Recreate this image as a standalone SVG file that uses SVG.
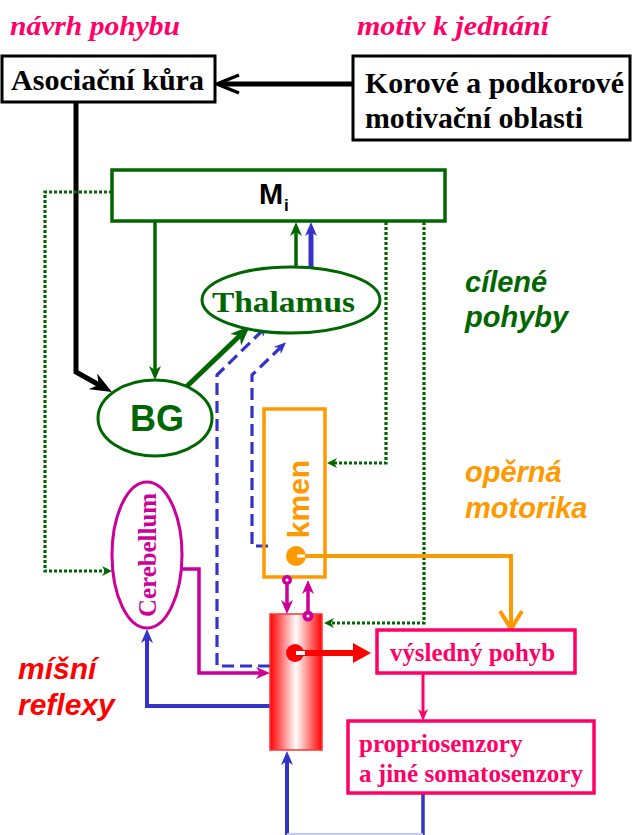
<svg xmlns="http://www.w3.org/2000/svg" width="633" height="835" viewBox="0 0 633 835">
<style>
.serif{font-family:"Liberation Serif","Times New Roman",serif;font-weight:bold}
.sans{font-family:"Liberation Sans",Arial,sans-serif;font-weight:bold}
.it{font-style:italic}
.box{fill:#fff}
.dot{fill:none;stroke:#006600;stroke-width:3.2;stroke-dasharray:3 2}
.dash{fill:none;stroke:#3333cc;stroke-width:3.2;stroke-dasharray:12 6}
</style>
<defs>
<linearGradient id="spine" x1="0" y1="0" x2="1" y2="0">
<stop offset="0" stop-color="#ff0000"/>
<stop offset="0.5" stop-color="#ffffff"/>
<stop offset="1" stop-color="#ff0000"/>
</linearGradient>
<marker id="mBlk" markerUnits="userSpaceOnUse" viewBox="0 0 22 18" markerWidth="22" markerHeight="18" refX="10" refY="9" orient="auto"><path d="M0,0 L22,9 L0,18 L7,9 z" fill="#000"/></marker>
<marker id="mGrn" markerUnits="userSpaceOnUse" viewBox="0 0 14 12" markerWidth="14" markerHeight="12" refX="6" refY="6" orient="auto"><path d="M0,0 L14,6 L0,12 L4,6 z" fill="#006600"/></marker>
<marker id="mGrnBig" markerUnits="userSpaceOnUse" viewBox="0 0 20 16" markerWidth="20" markerHeight="16" refX="8" refY="8" orient="auto"><path d="M0,0 L20,8 L0,16 L6,8 z" fill="#006600"/></marker>
<marker id="mGrnS" markerUnits="userSpaceOnUse" viewBox="0 0 10 10" markerWidth="10" markerHeight="10" refX="4" refY="5" orient="auto"><path d="M0,0 L10,5 L0,10 L3,5 z" fill="#006600"/></marker>
<marker id="mBlu" markerUnits="userSpaceOnUse" viewBox="0 0 14 12" markerWidth="14" markerHeight="12" refX="6" refY="6" orient="auto"><path d="M0,0 L14,6 L0,12 L4,6 z" fill="#3333cc"/></marker>
<marker id="mBluS" markerUnits="userSpaceOnUse" viewBox="0 0 12 10" markerWidth="12" markerHeight="10" refX="5" refY="5" orient="auto"><path d="M0,0 L12,5 L0,10 L3.5,5 z" fill="#3333cc"/></marker>
<marker id="mMag" markerUnits="userSpaceOnUse" viewBox="0 0 14 12" markerWidth="14" markerHeight="12" refX="6" refY="6" orient="auto"><path d="M0,0 L14,6 L0,12 L4,6 z" fill="#cc0099"/></marker>
<marker id="mPnk" markerUnits="userSpaceOnUse" viewBox="0 0 12 10" markerWidth="12" markerHeight="10" refX="5" refY="5" orient="auto"><path d="M0,0 L12,5 L0,10 L3.5,5 z" fill="#ff0066"/></marker>
<marker id="mRed" markerUnits="userSpaceOnUse" viewBox="0 0 18 20" markerWidth="18" markerHeight="20" refX="2" refY="10" orient="auto"><path d="M0,0 L18,10 L0,20 z" fill="#ff0000"/></marker>
</defs>

<rect width="633" height="835" fill="#fff"/>

<g id="labels">
<text class="serif it" x="10" y="35" font-size="28" fill="#ff0066" textLength="170" lengthAdjust="spacingAndGlyphs">návrh pohybu</text>
<text class="serif it" x="357" y="35" font-size="28" fill="#ff0066" textLength="192" lengthAdjust="spacingAndGlyphs">motiv k jednání</text>
<text class="sans it" x="465" y="292" font-size="29" fill="#006600">cílené</text>
<text class="sans it" x="465" y="327" font-size="29" fill="#006600">pohyby</text>
<text class="sans it" x="465" y="482" font-size="29" fill="#ff9900">opěrná</text>
<text class="sans it" x="465" y="518" font-size="29" fill="#ff9900">motorika</text>
<text class="sans it" x="18" y="679" font-size="30" fill="#ff0000">míšní</text>
<text class="sans it" x="18" y="715" font-size="30" fill="#ff0000">reflexy</text>
</g>

<g id="connectors">
<line x1="352" y1="84" x2="220" y2="84" stroke="#000" stroke-width="5"/>
<path d="M239,75 L217,84 L239,93" fill="none" stroke="#000" stroke-width="3.5"/>
<path d="M76,102 V372 L101.5,386.2" fill="none" stroke="#000" stroke-width="5" marker-end="url(#mBlk)"/>
<line x1="155" y1="221" x2="155" y2="372" stroke="#006600" stroke-width="3.5" marker-end="url(#mGrn)"/>
<line x1="183" y1="390" x2="241.3" y2="334.3" stroke="#006600" stroke-width="5" marker-end="url(#mGrnBig)"/>
<line x1="296" y1="267" x2="296" y2="230" stroke="#006600" stroke-width="3.5" marker-end="url(#mGrn)"/>
<line x1="311" y1="267" x2="311" y2="230" stroke="#3333cc" stroke-width="5" marker-end="url(#mBlu)"/>
<path class="dash" d="M270,666 H217 V375 L263,330" marker-end="url(#mBluS)"/>
<path class="dash" d="M268,546 H252 V375 L281,347" marker-end="url(#mBluS)"/>
<path class="dot" d="M112,192 H45 V571 H106" marker-end="url(#mGrnS)"/>
<path class="dot" d="M386,222 V463 H333" marker-end="url(#mGrnS)"/>
<path class="dot" d="M424,222 V623 H330" marker-end="url(#mGrnS)"/>
<path d="M296,556 H511 V628" fill="none" stroke="#ff9900" stroke-width="4"/>
<path d="M500,611 L511,629 L522,611" fill="none" stroke="#ff9900" stroke-width="4"/>
<path d="M182,569 H199 V673 H262" fill="none" stroke="#cc0099" stroke-width="3.5" marker-end="url(#mMag)"/>
<path d="M270,706 H147 V637" fill="none" stroke="#3333cc" stroke-width="4" marker-end="url(#mBlu)"/>
<line x1="423" y1="793" x2="423" y2="835" stroke="#3333cc" stroke-width="3.5"/>
<line x1="287" y1="835" x2="287" y2="759" stroke="#3333cc" stroke-width="4" marker-end="url(#mBlu)"/>
<line x1="287" y1="834" x2="423" y2="834" stroke="#c8c8f4" stroke-width="2"/>
<line x1="423" y1="673" x2="423" y2="714" stroke="#ff0066" stroke-width="3" marker-end="url(#mPnk)"/>
</g>

<g id="asociacni">
<rect class="box" x="2" y="56" width="213" height="46" stroke="#000" stroke-width="3"/>
<text class="serif" x="11" y="90" font-size="29" fill="#000" textLength="193" lengthAdjust="spacingAndGlyphs">Asociační kůra</text>
</g>

<g id="korove">
<rect class="box" x="353" y="56" width="277" height="84" stroke="#000" stroke-width="3"/>
<text class="serif" x="365" y="93" font-size="29" fill="#000" textLength="259" lengthAdjust="spacingAndGlyphs">Korové a podkorové</text>
<text class="serif" x="365" y="128" font-size="29" fill="#000" textLength="218" lengthAdjust="spacingAndGlyphs">motivační oblasti</text>
</g>

<g id="mi">
<rect class="box" x="112" y="170" width="333" height="51" stroke="#006600" stroke-width="3.5"/>
<text class="sans" x="259" y="204" font-size="29" fill="#000">M</text>
<text class="sans" x="284" y="211" font-size="17" fill="#000">i</text>
</g>

<g id="thalamus">
<ellipse cx="291" cy="300" rx="89" ry="33" fill="#fff" stroke="#006600" stroke-width="3"/>
<text class="serif" x="212" y="312" font-size="30" fill="#006600" textLength="143" lengthAdjust="spacingAndGlyphs">Thalamus</text>
</g>

<g id="bg">
<ellipse cx="155" cy="418" rx="57" ry="38" fill="#fff" stroke="#006600" stroke-width="3"/>
<text class="sans" x="157" y="431" font-size="36" fill="#006600" text-anchor="middle">BG</text>
</g>

<g id="kmen">
<rect x="264" y="409" width="61" height="168" fill="none" stroke="#ff9900" stroke-width="3.5"/>
<text class="sans" transform="translate(309,499) rotate(-90)" font-size="30" fill="#ff9900" text-anchor="middle">kmen</text>
<circle cx="296" cy="556" r="10" fill="#ff9900"/>
<rect x="297" y="554.5" width="8" height="3" fill="#fff"/>
</g>

<g id="cerebellum">
<ellipse cx="147" cy="555" rx="35" ry="73" fill="#fff" stroke="#cc0099" stroke-width="3"/>
<text class="serif" transform="translate(156,555) rotate(-90)" font-size="25" fill="#cc0099" text-anchor="middle" textLength="124" lengthAdjust="spacingAndGlyphs">Cerebellum</text>
</g>

<g id="micha">
<rect x="270" y="614" width="52" height="136" fill="url(#spine)" stroke="#ff3333" stroke-width="1.5"/>
<line x1="287" y1="580" x2="287" y2="606" stroke="#cc0099" stroke-width="3.5" marker-end="url(#mMag)"/>
<circle cx="287" cy="580" r="5" fill="#cc0099"/>
<circle cx="287" cy="580" r="1.6" fill="#fff"/>
<line x1="308" y1="616" x2="308" y2="588" stroke="#cc0099" stroke-width="3.5" marker-end="url(#mMag)"/>
<circle cx="308" cy="616" r="5.5" fill="#cc0099"/>
<circle cx="308" cy="616" r="1.6" fill="#fff"/>
<line x1="295" y1="653" x2="355" y2="653" stroke="#ff0000" stroke-width="6" marker-end="url(#mRed)"/>
<circle cx="295" cy="653" r="9" fill="#ff0000"/>
<rect x="296" y="651" width="9" height="4" fill="#fff"/>
</g>

<g id="vysledny">
<rect class="box" x="377" y="630" width="198" height="43" stroke="#ff0066" stroke-width="3.5"/>
<text class="serif" x="390" y="661" font-size="25" fill="#ff0066" textLength="165" lengthAdjust="spacingAndGlyphs">výsledný pohyb</text>
</g>

<g id="proprio">
<rect class="box" x="348" y="721" width="246" height="72" stroke="#ff0066" stroke-width="3.5"/>
<text class="serif" x="359" y="752" font-size="25" fill="#ff0066">propriosenzory</text>
<text class="serif" x="359" y="782" font-size="25" fill="#ff0066" textLength="224" lengthAdjust="spacingAndGlyphs">a jiné somatosenzory</text>
</g>
</svg>
